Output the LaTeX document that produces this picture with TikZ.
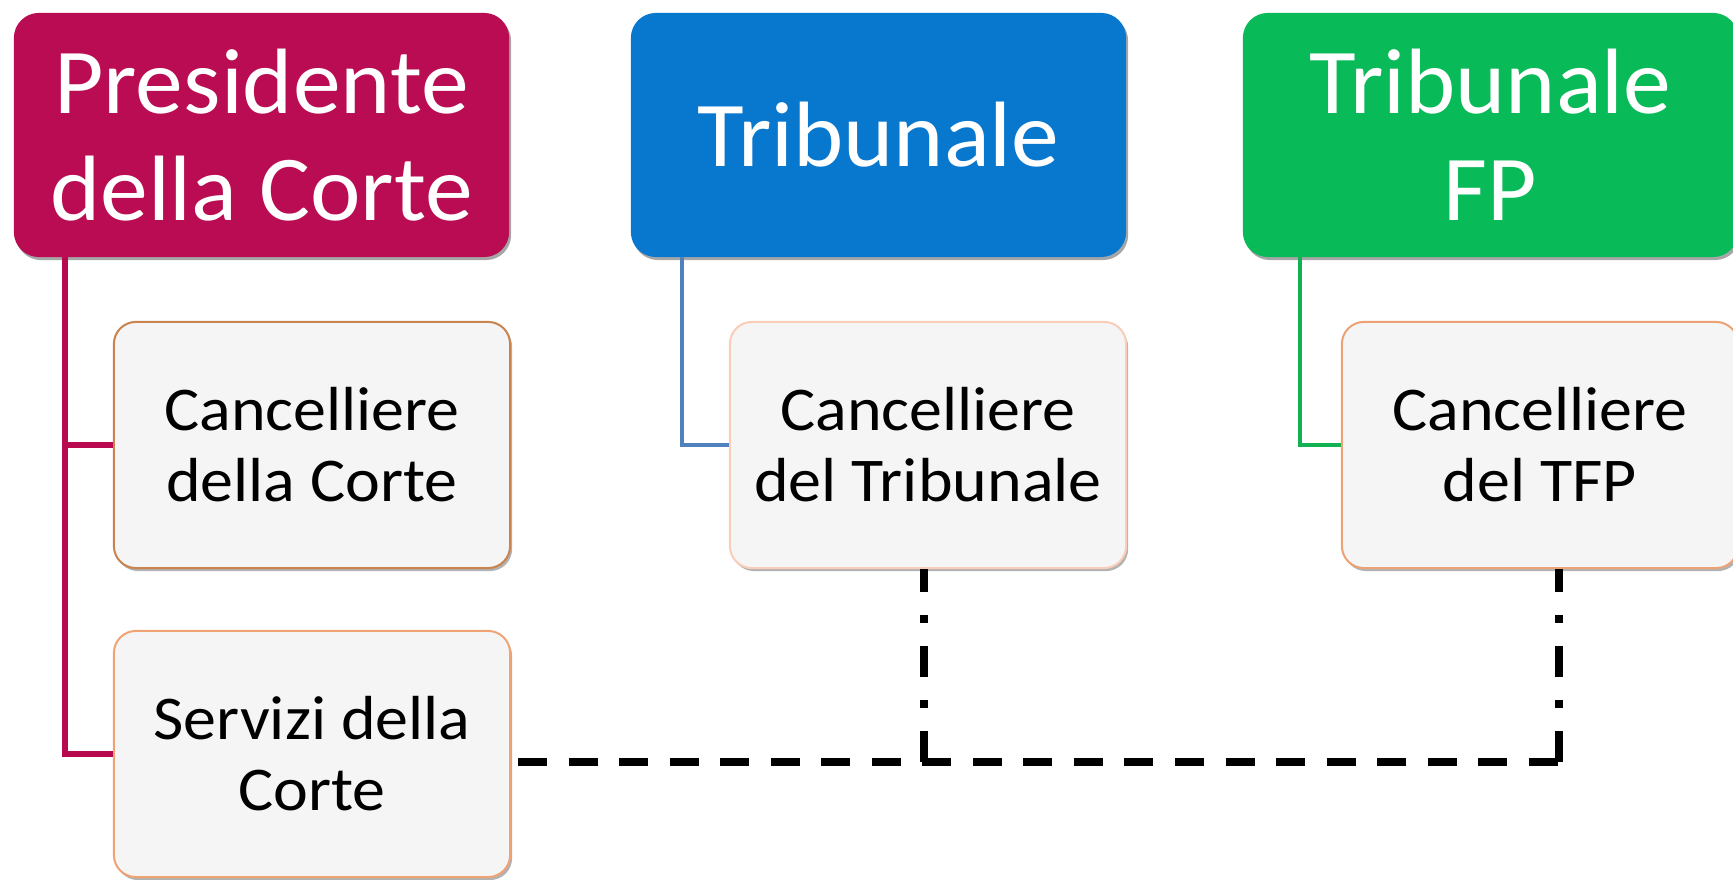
\documentclass[tikz,border=0pt]{standalone}
\usepackage{fontspec}
\setmainfont{Carlito}
\newfontfamily\capofont[FakeStretch=1.03]{Carlito}
\newfontfamily\ufficiofont[FakeStretch=1.06]{Carlito}
\usetikzlibrary{positioning,shadows}

\definecolor{corte}{HTML}{BA0C52}
\definecolor{tribunale}{HTML}{0878CF}
\definecolor{tfp}{HTML}{08BA58}
\definecolor{corteline}{HTML}{B8094F}
\definecolor{tribline}{HTML}{4F81BD}
\definecolor{tfpline}{HTML}{12B152}
\definecolor{bordoA}{HTML}{C8834E}
\definecolor{bordoB}{HTML}{F0A375}
\definecolor{bordoC}{HTML}{F9CDB8}
\definecolor{bordoD}{HTML}{EDA276}
\definecolor{fondo}{HTML}{F5F5F5}

\tikzset{
  capo/.style={rounded corners=0.25cm, minimum width=4.95cm, minimum height=2.44cm,
    text=white, align=center, inner sep=0pt,
    font=\capofont\fontsize{26.4pt}{30.4pt}\selectfont,
    drop shadow={shadow xshift=0.02cm, shadow yshift=-0.03cm, fill=black, opacity=0.35}},
  ufficio/.style={rounded corners=0.22cm, minimum width=3.96cm, minimum height=2.46cm,
    fill=fondo, line width=0.02cm, align=center, inner sep=0pt,
    font=\ufficiofont\fontsize{17.7pt}{20.2pt}\selectfont,
    drop shadow={shadow xshift=0.02cm, shadow yshift=-0.03cm, fill=black, opacity=0.3}},
  trattino/.style={line width=0.075cm, dash pattern=on 0.29cm off 0.215cm},
  puntini/.style={line width=0.075cm, dash pattern=on 0.31cm off 0.23cm on 0.08cm off 0.23cm}
}

\begin{document}
\begin{tikzpicture}[x=0.01cm, y=-0.01cm]
	\useasboundingbox (0,0) rectangle (1733,880);

	% vertici
	\node [capo, fill=corte] (pres) at (261.5, 135) {Presidente\\della Corte};
	\node [capo, fill=tribunale] (trib) at (878.5, 135) {Tribunale};
	\node [capo, fill=tfp] (tfp) at (1490.5, 135) {Tribunale\\FP};

	% uffici
	\node [ufficio, draw=bordoA] (canccorte) at (312, 445) {Cancelliere\\della Corte};
	\node [ufficio, draw=bordoB] (servizi) at (312, 754) {Servizi della\\Corte};
	\node [ufficio, draw=bordoC] (canctrib) at (928, 445) {Cancelliere\\del Tribunale};
	\node [ufficio, draw=bordoD] (canctfp) at (1540, 445) {Cancelliere\\del TFP};

	\coordinate (presfoot) at (65, 257);
	\coordinate (tribfoot) at (682, 257);
	\coordinate (tfpfoot) at (1300, 257);
	\coordinate (giroA) at (924, 762);
	\coordinate (giroB) at (1559, 762);

	\draw [corteline, line width=0.06cm] (presfoot) |- (canccorte.west);
	\draw [corteline, line width=0.06cm] (presfoot) |- (servizi.west);
	\draw [tribline, line width=0.045cm] (tribfoot) |- (canctrib.west);
	\draw [tfpline, line width=0.035cm] (tfpfoot) |- (canctfp.west);

	\draw [trattino] ([xshift=0.07cm]servizi.east |- giroB) -- (giroB);
	\draw [puntini] (giroA) -- (canctrib.south -| giroA);
	\draw [puntini] (giroB) -- (canctfp.south -| giroB);
\end{tikzpicture}
\end{document}
